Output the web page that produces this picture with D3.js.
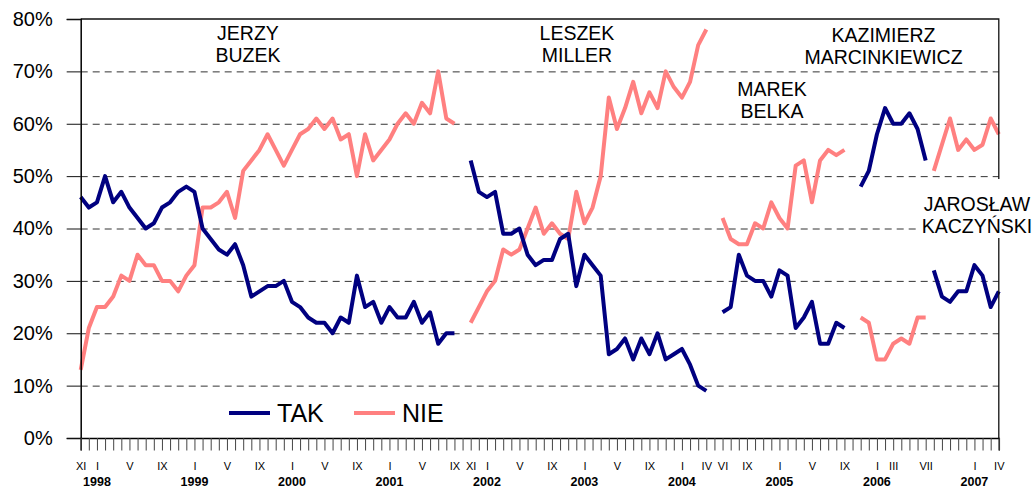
<!DOCTYPE html>
<html>
<head>
<meta charset="utf-8">
<script src="https://cdn.jsdelivr.net/npm/d3@7"></script>
<style>
  body { margin: 0; background: #fff; }
  svg { display: block; font-family: "Liberation Sans", Arial, sans-serif; }
  .grid line { stroke: #333; stroke-dasharray: 7,5; }
  .grid .domain { display: none; }
  .y-axis text { font-size: 20px; fill: #000; }
  .x-axis text { font-size: 11px; fill: #000; }
  .x-axis line { stroke: #444; }
  .year { font-size: 12.5px; font-weight: bold; }
  .note { font-size: 19.5px; }
</style>
</head>
<body>
<div class="chart-container"></div>
<script>
// monthly survey, XI 1997 - IV 2007, split by prime minister
const buzekTak = [46,44,45,50,45,47,44,42,40,41, 44,45,47,48,47,40,38,36,35,37,
  33,27,28,29,29,30,26,25,23,22, 22,20,23,22,31,25,26,22,25,23, 23,26,22,24,18,20,20];
const buzekNie = [13,21,25,25,27,31,30,35,33,33, 30,30,28,31,33,44,44,45,47,42,
  51,53,55,58,55,52,55,58,59,61, 59,61,57,58,50,58,53,55,57,60, 62,60,64,62,70,61,60];
const millerTak = [53,47,46,47,39,39,40,35,33,34, 34,38,39,29,35,33,31,16,17,19,
  15,19,16,20,15,16,17,14,10,9];
const millerNie = [22,25,28,30,36,35,36,40,44,39, 41,39,38,47,41,44,50,65,59,63,
  68,62,66,63,70,67,65,68,75,78];
const belkaTak = [24,25,35,31,30,30,27,32,31,21,23,26,18,18,22,21];
const belkaNie = [42,38,37,37,41,40,45,42,40,52,53,45,53,55,54,55];
const marcinkiewiczTak = [48,51,58,63,60,60,62,59,53];
const marcinkiewiczNie = [23,22,15,15,18,19,18,23,23];
const kaczynskiTak = [32,27,26,28,28,33,31,25,28];
const kaczynskiNie = [51,56,61,55,57,55,56,61,58];

const govStarts = ["1997-11", "2001-11", "2004-6", "2005-11", "2006-8"];
const govNames = [["JERZY", "BUZEK"], ["LESZEK", "MILLER"], ["MAREK", "BELKA"],
  ["KAZIMIERZ", "MARCINKIEWICZ"], ["JAROSŁAW", "KACZYŃSKI"]];

const roman = ["I","II","III","IV","V","VI","VII","VIII","IX","X","XI","XII"];
const shownMonths = ["1997-11","1998-1","1998-5","1998-9","1999-1","1999-5","1999-9",
  "2000-1","2000-5","2000-9","2001-1","2001-5","2001-9","2001-11","2002-1","2002-5","2002-9",
  "2003-1","2003-5","2003-9","2004-1","2004-4","2004-6","2004-9","2005-1","2005-5","2005-9",
  "2006-1","2006-3","2006-7","2007-1","2007-4"];
const years = [1998, 1999, 2000, 2001, 2002, 2003, 2004, 2005, 2006, 2007];
const yTicks = [0, 0.1, 0.2, 0.3, 0.4, 0.5, 0.6, 0.7, 0.8];

// category list: every month on the axis
const months = [];
for (let yr = 1997, m = 11; yr < 2007 || m <= 4; m++) {
  if (m > 12) { m = 1; yr++; }
  months.push(yr + "-" + m);
}

const plotLeft = 80.7, plotRight = 998.8, plotTop = 19, plotBottom = 438;

const x = d3.scalePoint().domain(months).range([plotLeft, plotRight]);
const y = d3.scaleLinear().domain([0, 0.8]).range([plotBottom, plotTop]);

const svg = d3.select(".chart-container").append("svg")
    .attr("width", 1033)
    .attr("height", 487);

svg.append("g")
    .attr("class", "grid")
    .attr("transform", "translate(" + plotLeft + ",0)")
    .call(d3.axisLeft(y).tickValues(yTicks.slice(1, -1)).tickSize(-(plotRight - plotLeft)).tickFormat(""));

// segments per government
const takSets = [buzekTak, millerTak, belkaTak, marcinkiewiczTak, kaczynskiTak];
const nieSets = [buzekNie, millerNie, belkaNie, marcinkiewiczNie, kaczynskiNie];

const toPoints = (vals, start) => {
  const s = months.indexOf(start);
  return vals.map((v, i) => ({m: months[s + i], v: v / 100}));
};

const line = d3.line().x((d) => x(d.m)).y((d) => y(d.v));

const drawSeries = (sets, color) => {
  sets.forEach((vals, k) => {
    svg.append("path")
        .datum(toPoints(vals, govStarts[k]))
        .attr("d", line)
        .attr("fill", "none")
        .attr("stroke", color)
        .attr("stroke-width", 4)
        .attr("stroke-linejoin", "round");
  });
};
drawSeries(nieSets, "#ff8080");
drawSeries(takSets, "#000080");

// plot border (top + right)
svg.append("path")
    .attr("d", "M" + plotLeft + "," + plotTop + "H" + plotRight + "V" + plotBottom)
    .attr("fill", "none")
    .attr("stroke", "#111")
    .attr("stroke-width", 1.3);

svg.append("g")
    .attr("class", "y-axis")
    .attr("transform", "translate(" + plotLeft + ",0)")
    .call(d3.axisLeft(y).tickValues(yTicks).tickSize(14).tickPadding(14).tickFormat(d3.format(".0%")))
    .call((g) => g.selectAll("line").attr("stroke", "#111"))
    .call((g) => g.select(".domain").attr("stroke", "#000").attr("stroke-width", 1.5));

svg.append("g")
    .attr("class", "x-axis")
    .attr("transform", "translate(0," + plotBottom + ")")
    .call(d3.axisBottom(x).tickSize(12.5).tickPadding(12)
      .tickFormat((d) => shownMonths.includes(d) ? roman[+d.split("-")[1] - 1] : ""))
    .call((g) => g.select(".domain").attr("stroke", "#000").attr("stroke-width", 1.5));

svg.selectAll(".year")
    .data(years)
  .enter().append("text")
    .attr("class", "year")
    .attr("x", (d) => x(d + "-1"))
    .attr("y", 485.5)
    .style("text-anchor", "middle")
    .text((d) => d);

// prime minister names
const notePos = [[248, 33], [577, 33], [772, 89], [883.5, 35], [977, 204]];

svg.append("rect")
    .attr("x", 917).attr("y", 179)
    .attr("width", 116).attr("height", 59)
    .attr("fill", "#fff");

govNames.forEach((lines, k) => {
  const t = svg.append("text")
      .attr("class", "note")
      .style("text-anchor", "middle");
  lines.forEach((s, j) => {
    t.append("tspan")
        .attr("x", notePos[k][0])
        .attr("y", notePos[k][1] + j * 22.5)
        .attr("dy", "0.35em")
        .text(s);
  });
});

// legend
const legend = [["TAK", "#000080", 229], ["NIE", "#ff8080", 354]];
legend.forEach((d) => {
  svg.append("line")
      .attr("x1", d[2]).attr("x2", d[2] + 41)
      .attr("y1", 413).attr("y2", 413)
      .attr("stroke", d[1])
      .attr("stroke-width", 4);
  svg.append("text")
      .attr("x", d[2] + 48)
      .attr("y", 422)
      .style("font-size", "25px")
      .text(d[0]);
});
</script>
</body>
</html>
